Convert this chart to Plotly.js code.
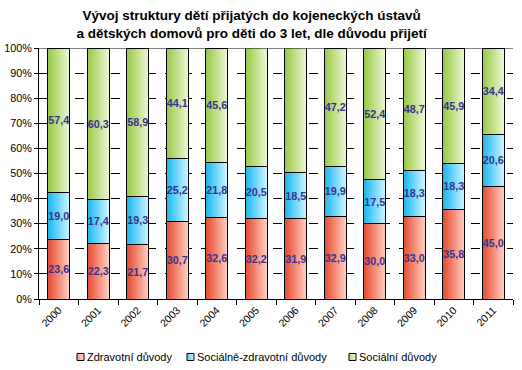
<!DOCTYPE html>
<html>
<head>
<meta charset="utf-8">
<script src="https://cdn.plot.ly/plotly-3.0.1.min.js"></script>
<style>
html,body{margin:0;padding:0;background:#fff;}
#chart{width:522px;height:370px;}
</style>
</head>
<body>
<div id="chart"></div>
<script>
var years = ['2000','2001','2002','2003','2004','2005','2006','2007','2008','2009','2010','2011'];
var zdravotni = [23.6,22.3,21.7,30.7,32.6,32.2,31.9,32.9,30.0,33.0,35.8,45.0];
var socialneZdravotni = [19.0,17.4,19.3,25.2,21.8,20.5,18.5,19.9,17.5,18.3,18.3,20.6];
var socialni = [57.4,60.3,58.9,44.1,45.6,47.4,49.7,47.2,52.4,48.7,45.9,34.4];
var seriesNames = ['Zdravotní důvody','Sociálně-zdravotní důvody','Sociální důvody'];
var yTicks = [0,10,20,30,40,50,60,70,80,90,100];
var yTickLabels = ['0%','10%','20%','30%','40%','50%','60%','70%','80%','90%','100%'];

var baseColors = ['#f0876c','#6fd3f8','#c3df8a'];
var gradStops = [['#e6482c','#fcd2c6'],['#14b6ef','#d4f5ff'],['#96c842','#eef7da']];
var legendGrad = [['#f4a08c','#fbd8ce'],['#5ccdf6','#c8f1ff'],['#b8d97a','#e8f4cc']];
var labelColor = '#38328f';

// custom legend placement (paper coords)
var legendX = [0.0802, 0.3122, 0.6540];
var legendY = -0.231;
var swW = 0.0148, swH = 0.028;

function mk(vals, i){
  return {
    type:'bar', x:years, y:vals, name:seriesNames[i],
    marker:{color:baseColors[i], line:{color:'#000', width:1}},
    text: vals.map(function(v){return v.toFixed(1).replace('.',',');}),
    textposition:'inside', insidetextanchor:'middle', textangle:0,
    constraintext:'none',
    textfont:{family:'Liberation Sans, Arial, sans-serif', size:10.8, color:labelColor, weight:'bold'},
    hoverinfo:'skip', cliponaxis:false, showlegend:false
  };
}
var data = [mk(zdravotni,0), mk(socialneZdravotni,1), mk(socialni,2)];

var shapes = [{type:'line', xref:'paper', yref:'y', x0:0, x1:1, y0:100, y1:100, line:{color:'#000', width:1}}];
var annotations = [];
seriesNames.forEach(function(n, i){
  shapes.push({type:'rect', xref:'paper', yref:'paper', x0:legendX[i], x1:legendX[i]+swW, y0:legendY-swH/2, y1:legendY+swH/2,
    fillcolor:baseColors[i], line:{color:'#000', width:1}});
  annotations.push({xref:'paper', yref:'paper', x:legendX[i]+swW+0.003, y:legendY, xanchor:'left', yanchor:'middle',
    text:n, showarrow:false, font:{size:11, color:'#000'}});
});

var layout = {
  width:522, height:370,
  margin:{l:39, r:9, t:48, b:71},
  paper_bgcolor:'#fff', plot_bgcolor:'#fff',
  barmode:'stack', bargap:0.44,
  font:{family:'Liberation Sans, Arial, sans-serif', color:'#000'},
  title:{text:'<b>Vývoj struktury dětí přijatých do kojeneckých ústavů<br>a dětských domovů pro děti do 3 let, dle důvodu přijetí</b>',
    font:{size:13.5, color:'#000', family:'Liberation Sans, Arial, sans-serif'},
    x:0.482, xanchor:'center', y:0.945, yanchor:'middle', yref:'container'},
  xaxis:{type:'category', showline:true, linecolor:'#000', linewidth:1, mirror:false, automargin:false,
    ticks:'outside', tickson:'boundaries', ticklen:5, tickcolor:'#000',
    tickangle:-45, tickfont:{size:10.5}, showgrid:false, fixedrange:true},
  yaxis:{range:[0,100], tickvals:yTicks, ticktext:yTickLabels, showline:true, linecolor:'#000', linewidth:1, automargin:false,
    ticks:'outside', ticklen:4, tickcolor:'#000', tickfont:{size:10.8},
    showgrid:true, gridcolor:'#000', gridwidth:1, griddash:'dash', zeroline:false, fixedrange:true},
  shapes:shapes,
  annotations:annotations,
  showlegend:false
};

Plotly.newPlot('chart', data, layout, {displayModeBar:false, staticPlot:true}).then(function(gd){
  var svg = gd.querySelector('svg.main-svg');
  var ns = 'http://www.w3.org/2000/svg';
  var defs = svg.querySelector('defs') || svg.insertBefore(document.createElementNS(ns,'defs'), svg.firstChild);
  function addGrad(id, g){
    var lg = document.createElementNS(ns,'linearGradient');
    lg.setAttribute('id',id);
    lg.setAttribute('x1','0'); lg.setAttribute('x2','1'); lg.setAttribute('y1','0'); lg.setAttribute('y2','0');
    var s1 = document.createElementNS(ns,'stop'); s1.setAttribute('offset','0'); s1.setAttribute('stop-color',g[0]);
    var s2 = document.createElementNS(ns,'stop'); s2.setAttribute('offset','1'); s2.setAttribute('stop-color',g[1]);
    lg.appendChild(s1); lg.appendChild(s2); defs.appendChild(lg);
  }
  gradStops.forEach(function(g, i){ addGrad('bargrad'+i, g); });
  legendGrad.forEach(function(g, i){ addGrad('leggrad'+i, g); });
  var traces = gd.querySelectorAll('.barlayer .trace');
  traces.forEach(function(t, i){
    t.querySelectorAll('.point path').forEach(function(p){ p.style.fill = 'url(#bargrad'+i+')'; });
  });
  gd.querySelectorAll('.shapelayer path').forEach(function(p){
    var idx = parseInt(p.getAttribute('data-index'), 10);
    if (idx >= 1 && idx <= 3) { p.style.fill = 'url(#leggrad'+(idx-1)+')'; p.style.fillOpacity = 1; }
  });
});
</script>
</body>
</html>
